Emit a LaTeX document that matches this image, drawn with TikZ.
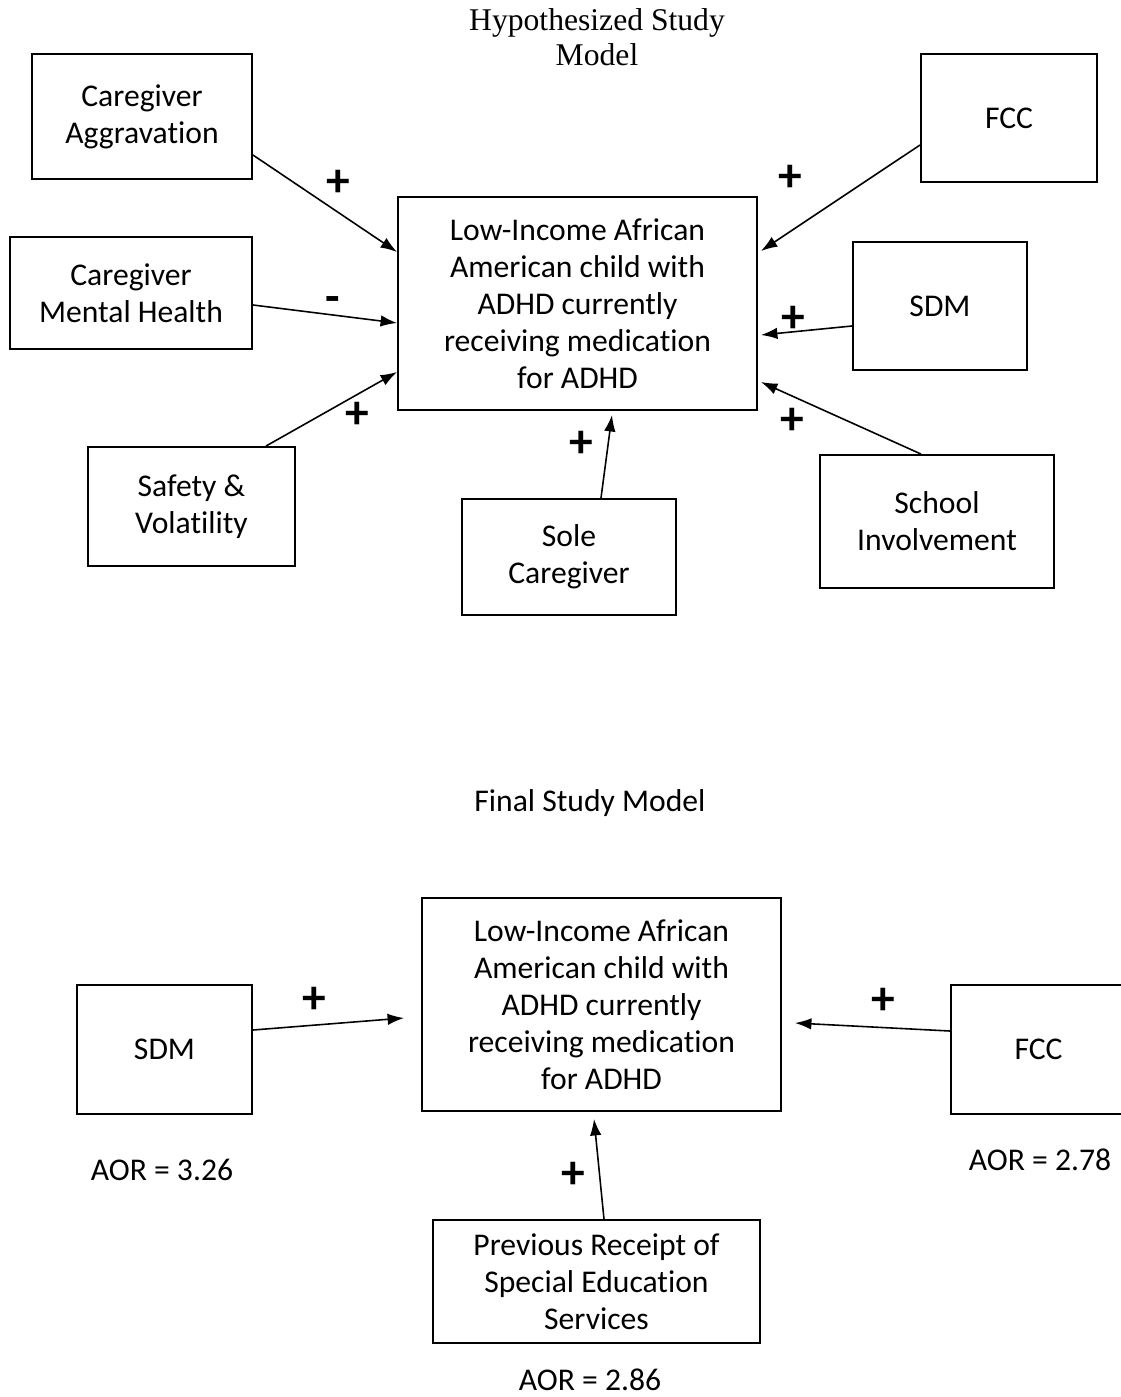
\documentclass[tikz,border=0pt]{standalone}
\usepackage{fontspec}
\setmainfont{Carlito}[Ligatures={NoCommon}]
\newfontfamily\titlefont{Liberation Serif}
\usepackage{tikz}
\usetikzlibrary{arrows.meta}

\begin{document}
\begin{tikzpicture}[x=0.02cm, y=-0.02cm,
box/.style={draw, line width=1.1pt, align=center, inner sep=0pt, font=\fontsize{18}{21}\selectfont},
link/.style={line width=0.9pt, -{Latex[length=3.3mm,width=2.3mm]}},
sign/.style={inner sep=0pt, font=\fontsize{27}{27}\selectfont\bfseries},
txt/.style={font=\fontsize{18}{21}\selectfont}]
\useasboundingbox (0,0) rectangle (1121,1397);
\node[align=center, font=\titlefont\fontsize{18}{20}\selectfont] (title) at (597,37) {Hypothesized Study\\Model};
\node[box, minimum width=4.4cm, minimum height=2.5cm] (aggr) at (142,116.5) {Caregiver\\Aggravation};
\node[box, minimum width=4.84cm, minimum height=2.24cm] (mental) at (131,293) {Caregiver\\Mental Health};
\node[box, minimum width=4.14cm, minimum height=2.38cm] (safety) at (191.5,506.5) {Safety \&\\Volatility};
\node[box, minimum width=7.18cm, minimum height=4.26cm] (child) at (577.5,303.5) {Low-Income African\\American child with\\ADHD currently\\receiving medication\\for ADHD};
\node[box, minimum width=4.28cm, minimum height=2.32cm] (sole) at (569,557) {Sole\\Caregiver};
\node[box, minimum width=3.52cm, minimum height=2.56cm] (fcc) at (1009,118) {FCC};
\node[box, minimum width=3.48cm, minimum height=2.56cm] (sdm) at (940,306) {SDM};
\node[box, minimum width=4.68cm, minimum height=2.66cm] (school) at (937,521.5) {School\\Involvement};
\draw[link] ([yshift=-0.77cm]aggr.east) -- ([yshift=1.03cm]child.west);
\draw[link] ([yshift=-0.24cm]mental.east) -- ([yshift=-0.39cm]child.west);
\draw[link] ([xshift=1.49cm]safety.north) -- ([yshift=-1.37cm]child.west);
\draw[link] ([yshift=-0.54cm]fcc.west) -- ([xshift=0.06cm,yshift=1.05cm]child.east);
\draw[link] ([yshift=-0.4cm]sdm.west) -- ([xshift=0.06cm,yshift=-0.63cm]child.east);
\draw[link] ([xshift=-0.32cm]school.north) -- ([xshift=0.06cm,yshift=-1.57cm]child.east);
\draw[link] ([xshift=0.64cm]sole.north) -- ([xshift=0.69cm,yshift=-0.08cm]child.south);
\node[sign] (plusaggr) at (338,183) {+};
\node[sign] (minusmental) at (333,305) {-};
\node[sign] (plussafety) at (357,415) {+};
\node[sign] (plusfcc) at (790,178) {+};
\node[sign] (plussdm) at (793,319) {+};
\node[sign] (plusschool) at (792,421) {+};
\node[sign] (plussole) at (581,444) {+};
\node[txt] (final) at (590,803) {Final Study Model};
\node[box, minimum width=7.18cm, minimum height=4.26cm] (child2) at (601.5,1004.5) {Low-Income African\\American child with\\ADHD currently\\receiving medication\\for ADHD};
\node[box, minimum width=3.5cm, minimum height=2.58cm] (sdm2) at (164.5,1049.5) {SDM};
\node[box, minimum width=3.5cm, minimum height=2.58cm] (fcc2) at (1038.5,1049.5) {FCC};
\node[box, minimum width=6.54cm, minimum height=2.46cm] (prev) at (596.5,1281.5) {Previous Receipt of\\Special Education\\Services};
\draw[link] ([yshift=0.39cm]sdm2.east) -- ([xshift=-0.34cm,yshift=-0.27cm]child2.west);
\draw[link] ([yshift=0.37cm]fcc2.west) -- ([xshift=0.26cm,yshift=-0.37cm]child2.east);
\draw[link] ([xshift=0.15cm]prev.north) -- ([xshift=-0.15cm,yshift=-0.14cm]child2.south);
\node[sign] (plussdm2) at (314,1000) {+};
\node[sign] (plusfcc2) at (883,1001) {+};
\node[sign] (plusprev) at (573,1175) {+};
\node[txt] (aorsdm) at (162,1170) {AOR = 3.26};
\node[txt] (aorfcc) at (1040,1160) {AOR = 2.78};
\node[txt] (aorprev) at (590,1380) {AOR = 2.86};
\end{tikzpicture}
\end{document}
